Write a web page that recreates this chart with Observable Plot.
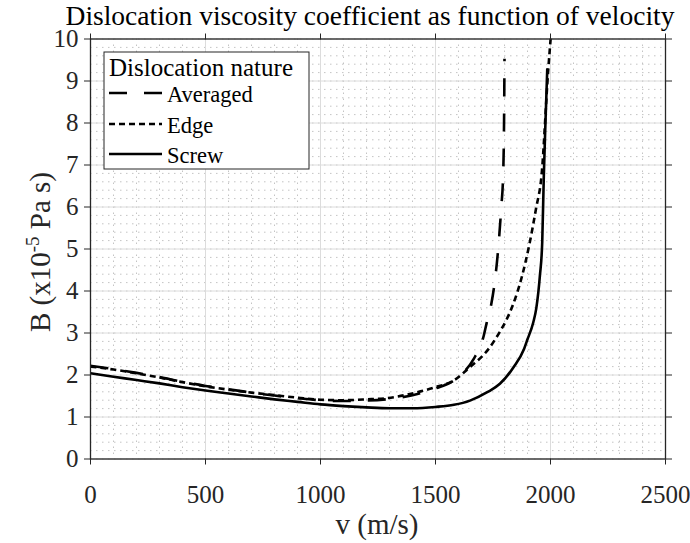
<!DOCTYPE html>
<html><head><meta charset="utf-8">
<script src="https://cdn.jsdelivr.net/npm/d3@7"></script>
<script src="https://cdn.jsdelivr.net/npm/@observablehq/plot@0.6"></script>
<style>body{margin:0;background:#fff;}</style>
</head><body><div id="chart"></div>
<script>
// Screw dislocations
const screwV = [0,100,200,300,400,500,600,700,800,900,1000,1100,1200,1300,1400,1500,1580,1650,1725,1780,1840,1885,1900,1925,1938,1954,1964,1971,1978,1986];
const screwB = [2.04,1.96,1.88,1.80,1.71,1.63,1.56,1.49,1.42,1.36,1.30,1.26,1.23,1.21,1.21,1.24,1.29,1.39,1.59,1.79,2.19,2.62,2.85,3.25,3.58,4.37,5.16,6.75,8.0,9.3];
// Edge dislocations
const edgeV = [0,100,200,300,400,500,600,700,800,900,1000,1100,1200,1290,1435,1500,1580,1650,1725,1783,1809,1833,1877,1910,1937,1961,1990,2005];
const edgeB = [2.20,2.13,2.04,1.94,1.83,1.73,1.65,1.58,1.52,1.46,1.41,1.40,1.42,1.45,1.61,1.71,1.87,2.19,2.58,3.06,3.32,3.62,4.37,5.16,5.96,6.75,9.25,10.3];
// Averaged
const avgV = [0,100,200,300,400,500,600,700,800,900,1000,1100,1200,1300,1400,1500,1580,1623,1667,1710,1722,1743,1761,1775,1786,1794,1798,1800];
const avgB = [2.22,2.14,2.05,1.95,1.84,1.74,1.66,1.58,1.51,1.45,1.40,1.38,1.39,1.43,1.52,1.68,1.87,2.07,2.39,2.94,3.23,3.70,4.37,5.16,6.0,6.75,8.0,9.53];

const xTicks = [0,500,1000,1500,2000,2500];
const yTicks = [0,1,2,3,4,5,6,7,8,9,10];
const xMinor = d3.range(0, 2501, 100);
const yMinor = d3.range(0, 10.001, 0.2);

const seriesNames = ["Averaged","Edge","Screw"];
const titleText = "Dislocation viscosity coefficient as function of velocity";

const toRows = (vs, bs) => vs.map((v, i) => ({v, B: bs[i]}));
const screw = toRows(screwV, screwB);
const edge = toRows(edgeV, edgeB);
const avg = toRows(avgV, avgB);

const font = "'Liberation Serif', 'Times New Roman', serif";
const ink = "#262626";

const chart = Plot.plot({
  width: 690, height: 543,
  marginLeft: 90, marginRight: 25, marginTop: 38.5, marginBottom: 84.5,
  x: {domain: [0, 2500]},
  y: {domain: [0, 10]},
  style: {fontFamily: font, fontSize: "25px", color: ink, background: "#fff", overflow: "visible"},
  marks: [
    Plot.ruleX(xMinor, {x: d => d, stroke: "#c4c4c4", strokeWidth: 1, strokeDasharray: "1.5,4.5"}),
    Plot.ruleY(yMinor, {y: d => d, stroke: "#c4c4c4", strokeWidth: 1, strokeDasharray: "1.5,4.5"}),
    Plot.ruleX(xTicks, {x: d => d, stroke: "#dcdcdc", strokeWidth: 1}),
    Plot.ruleY(yTicks, {y: d => d, stroke: "#dcdcdc", strokeWidth: 1}),
    Plot.line(avg, {x: "v", y: "B", stroke: "#000", strokeWidth: 2.6, strokeDasharray: "18,17", strokeLinecap: "butt", clip: true, curve: "monotone-x"}),
    Plot.line(edge, {x: "v", y: "B", stroke: "#000", strokeWidth: 2.6, strokeDasharray: "6,4", strokeLinecap: "butt", clip: true, curve: "monotone-x"}),
    Plot.line(screw, {x: "v", y: "B", stroke: "#000", strokeWidth: 2.6, strokeLinecap: "butt", clip: true, curve: "monotone-x"}),
    Plot.frame({stroke: ink, strokeWidth: 1.3}),
    Plot.axisX(xTicks, {anchor: "bottom", tickSize: 6, tickPadding: 20, label: null, tickFormat: d => String(d)}),
    Plot.axisX(xTicks, {anchor: "top", tickSize: 6, label: null, tickFormat: () => ""}),
    Plot.axisY(yTicks, {anchor: "left", tickSize: 6, tickPadding: 6, label: null, tickFormat: d => String(d)}),
    Plot.axisY(yTicks, {anchor: "right", tickSize: 6, label: null, tickFormat: () => ""})
  ]
});
document.getElementById("chart").appendChild(chart);

const svg = d3.select(chart);
// Title
svg.append("text").attr("x", 370).attr("y", 25).attr("text-anchor", "middle")
  .attr("font-family", font).attr("font-size", 27.5).attr("fill", "#000").text(titleText);
// x label
svg.append("text").attr("x", 377).attr("y", 534).attr("text-anchor", "middle")
  .attr("font-family", font).attr("font-size", 29).attr("fill", ink).text("v (m/s)");
// y label
const yl = svg.append("text").attr("transform", "translate(50,252) rotate(-90)").attr("text-anchor", "middle")
  .attr("font-family", font).attr("font-size", 29).attr("fill", ink);
yl.append("tspan").text("B (x10");
yl.append("tspan").attr("font-size", 19).attr("dy", -11).text("-5");
yl.append("tspan").attr("dy", 11).text(" Pa s)");

// Legend
const lg = svg.append("g").attr("text-anchor", "start");
lg.append("rect").attr("x", 104).attr("y", 52).attr("width", 205).attr("height", 117)
  .attr("fill", "#fff").attr("stroke", ink).attr("stroke-width", 1);
lg.append("text").attr("x", 109).attr("y", 76).attr("text-anchor", "start").attr("font-family", font).attr("font-size", 25).attr("fill", "#000").text("Dislocation nature");
const dashes = ["18,17", "6,4", null];
const ys = [93, 124, 154];
seriesNames.forEach((name, i) => {
  const ln = lg.append("line").attr("x1", 109).attr("x2", 162).attr("y1", ys[i]).attr("y2", ys[i])
    .attr("stroke", "#000").attr("stroke-width", 2.6);
  if (dashes[i]) ln.attr("stroke-dasharray", dashes[i]);
  lg.append("text").attr("x", 167).attr("y", ys[i] + 8.5).attr("text-anchor", "start").attr("font-family", font).attr("font-size", 22.5).attr("fill", "#000").text(name);
});
</script>
</body></html>
